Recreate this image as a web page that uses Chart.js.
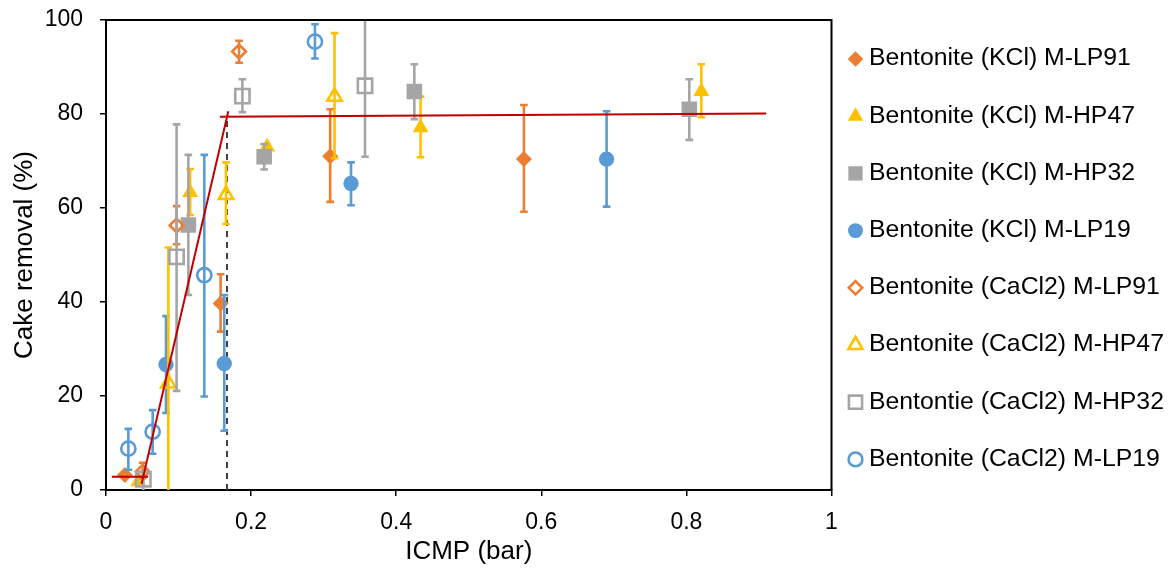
<!DOCTYPE html>
<html>
<head>
<meta charset="utf-8">
<script src="https://cdn.jsdelivr.net/npm/chart.js@4/dist/chart.umd.min.js"></script>
<style>
html, body { margin: 0; padding: 0; background: #ffffff; }
#wrap { width: 1172px; height: 574px; }
</style>
</head>
<body>
<div id="wrap"><canvas id="c" width="1172" height="574"></canvas></div>
<script>
// ---------------- DATA ----------------
const seriesNames = [
  'Bentonite (KCl) M-LP91',
  'Bentonite (KCl) M-HP47',
  'Bentonite (KCl) M-HP32',
  'Bentonite (KCl) M-LP19',
  'Bentonite (CaCl2) M-LP91',
  'Bentonite (CaCl2) M-HP47',
  'Bentontie (CaCl2) M-HP32',
  'Bentonite (CaCl2) M-LP19'
];

// ICMP (bar) values, cake removal (%) values, and error bar low / high ends
const kclLP91X  = [0.026, 0.158, 0.309, 0.576];
const kclLP91Y  = [3.2, 39.7, 71.0, 70.4];
const kclLP91Lo = [2.6, 33.7, 61.3, 59.2];
const kclLP91Hi = [3.8, 45.9, 81.0, 81.9];

const kclHP47X  = [0.0446, 0.116, 0.222, 0.4336, 0.8206];
const kclHP47Y  = [1.8, 63.3, 73.0, 77.1, 84.8];
const kclHP47Lo = [1.8, 58.5, 72.5, 70.8, 79.3];
const kclHP47Hi = [1.8, 68.3, 73.5, 83.7, 90.6];

const kclHP32X  = [0.1135, 0.218, 0.425, 0.804];
const kclHP32Y  = [56.4, 70.9, 84.8, 81.0];
const kclHP32Lo = [41.5, 68.2, 78.9, 74.5];
const kclHP32Hi = [71.3, 73.6, 90.6, 87.4];

const kclLP19X  = [0.0827, 0.163, 0.3377, 0.690];
const kclLP19Y  = [26.7, 26.9, 65.2, 70.4];
const kclLP19Lo = [16.4, 12.6, 60.6, 60.3];
const kclLP19Hi = [37.0, 41.5, 69.7, 80.6];

const cacLP91X  = [0.0505, 0.0973, 0.1834];
const cacLP91Y  = [3.9, 56.3, 93.3];
const cacLP91Lo = [2.5, 52.3, 90.9];
const cacLP91Hi = [5.8, 60.4, 95.6];

const cacHP47X  = [0.0859, 0.1654, 0.315];
const cacHP47Y  = [22.7, 62.8, 83.7];
const cacHP47Lo = [-5, 56.6, 70.6];
const cacHP47Hi = [51.6, 69.7, 97.2];

const cacHP32X  = [0.0515, 0.0973, 0.188, 0.357];
const cacHP32Y  = [2.3, 49.6, 83.8, 86.0];
const cacHP32Lo = [-0.5, 21.1, 80.4, 70.9];
const cacHP32Hi = [4.0, 77.8, 87.4, 105];

const cacLP19X  = [0.0308, 0.0643, 0.1355, 0.288];
const cacLP19Y  = [8.8, 12.4, 45.7, 95.4];
const cacLP19Lo = [4.3, 7.7, 19.9, 91.8];
const cacLP19Hi = [13.0, 17.0, 71.3, 99.1];

// Trend lines (red) and the dashed critical ICMP marker
const trendLowX   = [0.008, 0.058];
const trendLowY   = [2.8, 2.8];
const trendRiseX  = [0.049, 0.1686];
const trendRiseY  = [1.3, 80.6];
const trendFlatX  = [0.157, 0.91];
const trendFlatY  = [79.4, 80.1];
const criticalX   = [0.1668, 0.1668];
const criticalY   = [0, 79.8];

// Axis ticks
const xTicks = [0, 0.2, 0.4, 0.6, 0.8, 1];
const yTicks = [0, 20, 40, 60, 80, 100];

// ---------------- STYLES ----------------
const ORANGE = '#ED7D31', YELLOW = '#FFC000', GRAY = '#A5A5A5', BLUE = '#5B9BD5';
const seriesStyles = [
  { color: ORANGE, shape: 'rectRot',  filled: true,  r: 8.0 },
  { color: YELLOW, shape: 'triangle', filled: true,  r: 9.2 },
  { color: GRAY,   shape: 'rect',     filled: true,  r: 11.0 },
  { color: BLUE,   shape: 'circle',   filled: true,  r: 7.7 },
  { color: ORANGE, shape: 'rectRot',  filled: false, r: 6.9 },
  { color: YELLOW, shape: 'triangle', filled: false, r: 8.3 },
  { color: GRAY,   shape: 'rect',     filled: false, r: 10.1 },
  { color: BLUE,   shape: 'circle',   filled: false, r: 7.1 }
];
const seriesData = [
  [kclLP91X, kclLP91Y, kclLP91Lo, kclLP91Hi],
  [kclHP47X, kclHP47Y, kclHP47Lo, kclHP47Hi],
  [kclHP32X, kclHP32Y, kclHP32Lo, kclHP32Hi],
  [kclLP19X, kclLP19Y, kclLP19Lo, kclLP19Hi],
  [cacLP91X, cacLP91Y, cacLP91Lo, cacLP91Hi],
  [cacHP47X, cacHP47Y, cacHP47Lo, cacHP47Hi],
  [cacHP32X, cacHP32Y, cacHP32Lo, cacHP32Hi],
  [cacLP19X, cacLP19Y, cacLP19Lo, cacLP19Hi]
];

const FONT_FAMILY = '"Liberation Sans", Arial, Helvetica, sans-serif';
Chart.defaults.font.family = FONT_FAMILY;
Chart.defaults.color = '#000';

const toPts = (xs, ys) => xs.map((x, i) => ({ x: x, y: ys[i] }));

const datasets = seriesData.map((d, i) => {
  const st = seriesStyles[i];
  return {
    label: seriesNames[i],
    data: toPts(d[0], d[1]),
    errLo: d[2],
    errHi: d[3],
    isSeries: true,
    pointStyle: st.shape,
    pointRadius: st.r,
    pointHoverRadius: st.r,
    pointBackgroundColor: st.filled ? st.color : 'rgba(0,0,0,0)',
    pointBorderColor: st.color,
    pointBorderWidth: st.filled ? 0 : 2.6,
    backgroundColor: st.filled ? st.color : 'rgba(0,0,0,0)',
    borderColor: st.color,
    showLine: false,
    order: -i
  };
});

const lineDs = (xs, ys, color, width, dash, order) => ({
  label: '',
  data: toPts(xs, ys),
  showLine: true,
  borderColor: color,
  borderWidth: width,
  borderDash: dash,
  pointRadius: 0,
  pointHoverRadius: 0,
  fill: false,
  order: order
});

datasets.push(lineDs(criticalX, criticalY, '#404040', 2, [6, 5], 100));
datasets.push(lineDs(trendLowX, trendLowY, '#C00000', 2, [], -100));
datasets.push(lineDs(trendRiseX, trendRiseY, '#C00000', 2, [], -100));
datasets.push(lineDs(trendFlatX, trendFlatY, '#C00000', 2, [], -100));

// ---------------- PLUGINS ----------------
const errorBars = {
  id: 'errorBars',
  beforeDatasetDraw(chart, args) {
    const ds = chart.data.datasets[args.index];
    if (!ds.isSeries) return;
    const { ctx, chartArea, scales } = chart;
    ctx.save();
    ctx.beginPath();
    ctx.rect(chartArea.left, chartArea.top, chartArea.right - chartArea.left, chartArea.bottom - chartArea.top);
    ctx.clip();
    ctx.strokeStyle = ds.borderColor;
    ctx.lineWidth = 2.6;
    ctx.lineCap = 'butt';
    const cap = 3.8;
    ds.data.forEach((p, j) => {
      const lo = ds.errLo[j], hi = ds.errHi[j];
      if (lo === hi) return;
      const px = scales.x.getPixelForValue(p.x);
      const pLo = scales.y.getPixelForValue(lo);
      const pHi = scales.y.getPixelForValue(hi);
      ctx.beginPath();
      ctx.moveTo(px, pLo);
      ctx.lineTo(px, pHi);
      ctx.moveTo(px - cap, pLo);
      ctx.lineTo(px + cap, pLo);
      ctx.moveTo(px - cap, pHi);
      ctx.lineTo(px + cap, pHi);
      ctx.stroke();
    });
    ctx.restore();
  }
};

function drawMarker(ctx, shape, r, x, y) {
  ctx.beginPath();
  if (shape === 'circle') {
    ctx.arc(x, y, r, 0, Math.PI * 2);
  } else if (shape === 'rect') {
    const s = r * Math.SQRT1_2;
    ctx.rect(x - s, y - s, 2 * s, 2 * s);
  } else if (shape === 'rectRot') {
    ctx.moveTo(x, y - r); ctx.lineTo(x + r, y); ctx.lineTo(x, y + r); ctx.lineTo(x - r, y);
    ctx.closePath();
  } else if (shape === 'triangle') {
    let a = 0;
    ctx.moveTo(x + Math.sin(a) * r, y - Math.cos(a) * r);
    a += Math.PI * 2 / 3;
    ctx.lineTo(x + Math.sin(a) * r, y - Math.cos(a) * r);
    a += Math.PI * 2 / 3;
    ctx.lineTo(x + Math.sin(a) * r, y - Math.cos(a) * r);
    ctx.closePath();
  }
}

const frameAndLegend = {
  id: 'frameAndLegend',
  afterDraw(chart) {
    const { ctx, chartArea } = chart;
    ctx.save();
    // top and right frame
    ctx.strokeStyle = '#000';
    ctx.lineWidth = 2;
    ctx.beginPath();
    ctx.moveTo(chartArea.left, chartArea.top);
    ctx.lineTo(chartArea.right, chartArea.top);
    ctx.lineTo(chartArea.right, chartArea.bottom);
    ctx.stroke();
    // legend
    ctx.font = '24.8px ' + FONT_FAMILY;
    ctx.textBaseline = 'middle';
    ctx.textAlign = 'left';
    seriesNames.forEach((name, i) => {
      const st = seriesStyles[i];
      const cy = chartArea.top + 38.5 + 57.2 * i;
      const mx = chartArea.right + 24;
      const lr = st.shape === 'rect' ? st.r * 0.92 : st.r * 0.97;
      drawMarker(ctx, st.shape, lr, mx, cy + 0.5);
      if (st.filled) {
        ctx.fillStyle = st.color;
        ctx.fill();
      } else {
        ctx.strokeStyle = st.color;
        ctx.lineWidth = 2.6;
        ctx.stroke();
      }
      ctx.fillStyle = '#000';
      ctx.fillText(name, chartArea.right + 37.5, cy);
    });
    ctx.restore();
  }
};

// ---------------- CHART ----------------
new Chart(document.getElementById('c'), {
  type: 'scatter',
  data: { datasets: datasets },
  options: {
    responsive: false,
    animation: false,
    devicePixelRatio: 1,
    layout: { padding: { top: 20, right: 340.5, bottom: 0, left: 0 } },
    plugins: {
      legend: { display: false },
      tooltip: { enabled: false }
    },
    scales: {
      x: {
        type: 'linear',
        min: xTicks[0],
        max: xTicks[xTicks.length - 1],
        afterBuildTicks(scale) { scale.ticks = xTicks.map(v => ({ value: v })); },
        ticks: {
          font: { size: 23 },
          color: '#000',
          padding: 13,
          maxRotation: 0,
          callback: v => String(Math.round(v * 10) / 10)
        },
        grid: { drawOnChartArea: false, drawTicks: true, tickLength: 6, color: '#000', lineWidth: 1.5 },
        border: { display: true, color: '#000', width: 2 },
        title: { display: true, text: 'ICMP (bar)', font: { size: 26 }, color: '#000', padding: { top: 0, bottom: 7 } },
        afterFit(s) { s.height = 84; s.paddingLeft = 0; s.paddingRight = 0; }
      },
      y: {
        type: 'linear',
        min: yTicks[0],
        max: yTicks[yTicks.length - 1],
        afterBuildTicks(scale) { scale.ticks = yTicks.map(v => ({ value: v })); },
        ticks: {
          font: { size: 23 },
          color: '#000',
          padding: 17,
          callback: v => String(v)
        },
        grid: { drawOnChartArea: false, drawTicks: true, tickLength: 6, color: '#000', lineWidth: 1.5 },
        border: { display: true, color: '#000', width: 2 },
        title: { display: true, text: 'Cake removal (%)', font: { size: 26 }, color: '#000', padding: { top: 9, bottom: 0 } },
        afterFit(s) { s.width = 106; s.paddingTop = 0; s.paddingBottom = 0; }
      }
    }
  },
  plugins: [errorBars, frameAndLegend]
});
</script>
</body>
</html>
